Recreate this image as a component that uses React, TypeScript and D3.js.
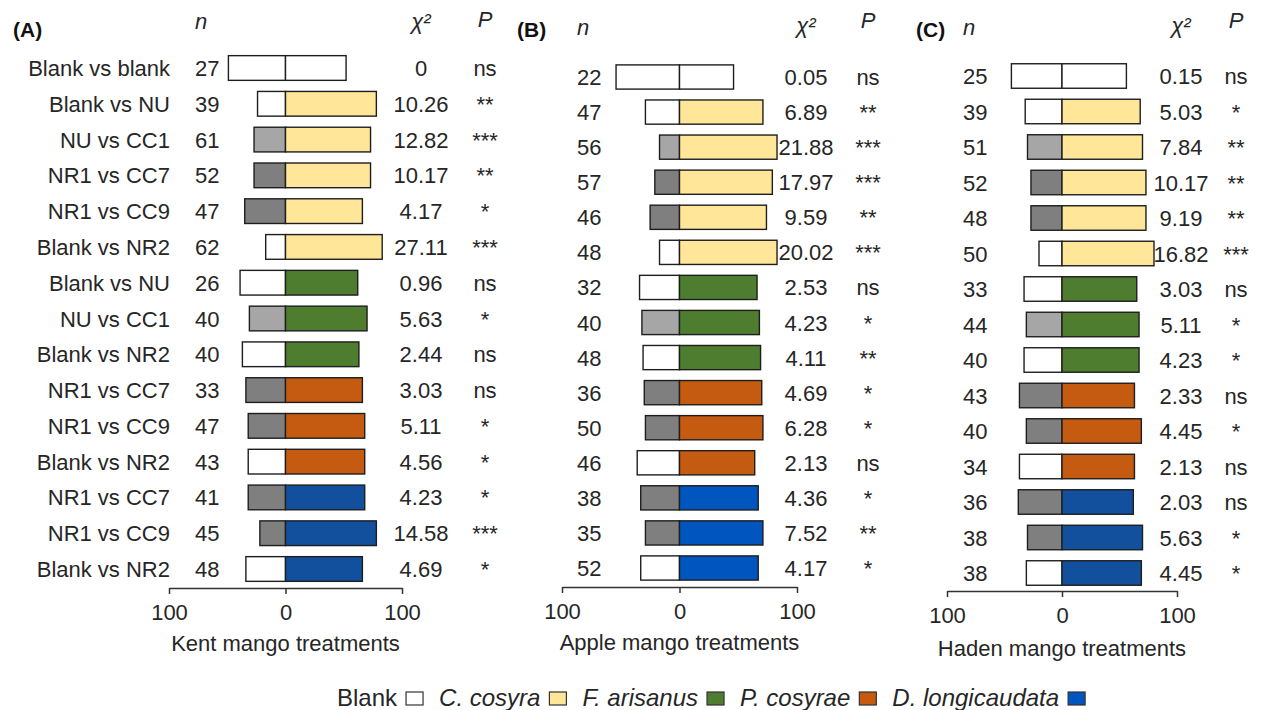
import { useEffect, useRef } from "react";
import * as d3 from "d3";

const FONT = "'Liberation Sans', Arial, Helvetica, sans-serif";

// row labels (shared by all three panels)
const rowLabels = [
  "Blank vs blank", "Blank vs NU", "NU vs CC1", "NR1 vs CC7", "NR1 vs CC9",
  "Blank vs NR2", "Blank vs NU", "NU vs CC1", "Blank vs NR2", "NR1 vs CC7",
  "NR1 vs CC9", "Blank vs NR2", "NR1 vs CC7", "NR1 vs CC9", "Blank vs NR2",
];
// treatment on the left side of the bar / fly species on the right side
const leftGroup = ["Blank", "Blank", "NU", "NR1", "NR1", "Blank", "Blank", "NU", "Blank", "NR1", "NR1", "Blank", "NR1", "NR1", "Blank"];
const rightGroup = [
  "Blank", "C. cosyra", "C. cosyra", "C. cosyra", "C. cosyra", "C. cosyra",
  "F. arisanus", "F. arisanus", "F. arisanus", "P. cosyrae", "P. cosyrae", "P. cosyrae",
  "D. longicaudata", "D. longicaudata", "D. longicaudata",
];

// Kent
const kentN = [27, 39, 61, 52, 47, 62, 26, 40, 40, 33, 47, 43, 41, 45, 48];
const kentChi = [0, 10.26, 12.82, 10.17, 4.17, 27.11, 0.96, 5.63, 2.44, 3.03, 5.11, 4.56, 4.23, 14.58, 4.69];
const kentP = ["ns", "**", "***", "**", "*", "***", "ns", "*", "ns", "ns", "*", "*", "*", "***", "*"];
const kentLeft = [49, 24, 27, 27, 35, 17, 39, 31, 37, 34, 32, 32, 32, 22, 34];
const kentRight = [52, 78, 73, 73, 66, 83, 62, 70, 63, 66, 68, 68, 68, 78, 66];

// Apple
const appleN = [22, 47, 56, 57, 46, 48, 32, 40, 48, 36, 50, 46, 38, 35, 52];
const appleChi = [0.05, 6.89, 21.88, 17.97, 9.59, 20.02, 2.53, 4.23, 4.11, 4.69, 6.28, 2.13, 4.36, 7.52, 4.17];
const appleP = ["ns", "**", "***", "***", "**", "***", "ns", "*", "**", "*", "*", "ns", "*", "**", "*"];
const appleLeft = [54, 29, 17, 21, 25, 17, 34, 32, 31, 30, 29, 36, 33, 29, 33];
const appleRight = [46, 71, 83, 79, 74, 83, 66, 68, 69, 70, 71, 64, 67, 71, 67];

// Haden
const hadenN = [25, 39, 51, 52, 48, 50, 33, 44, 40, 43, 40, 34, 36, 38, 38];
const hadenChi = [0.15, 5.03, 7.84, 10.17, 9.19, 16.82, 3.03, 5.11, 4.23, 2.33, 4.45, 2.13, 2.03, 5.63, 4.45];
const hadenP = ["ns", "*", "**", "**", "**", "***", "ns", "*", "*", "ns", "*", "ns", "ns", "*", "*"];
const hadenLeft = [44, 32, 30, 27, 27, 20, 33, 31, 33, 37, 31, 37, 38, 30, 31];
const hadenRight = [56, 68, 70, 73, 73, 80, 65, 67, 67, 63, 69, 63, 62, 70, 69];

const legendItems = ["Blank", "C. cosyra", "F. arisanus", "P. cosyrae", "D. longicaudata"];

const leftColor = { Blank: "#ffffff", NU: "#a6a6a6", NR1: "#7f7f7f" };
const rightColor = {
  Blank: "#ffffff",
  "C. cosyra": "#ffe699",
  "F. arisanus": "#4e7d2f",
  "P. cosyrae": "#c55a11",
  "D. longicaudata": "#12509e",
};

const panels = [
  {
    tag: "(A)", title: "Kent mango treatments", n: kentN, chi: kentChi, p: kentP, left: kentLeft, right: kentRight,
    blue: "#12509e", showLabels: true,
    x0: 169, x1: 402, y0: 68, y1: 569, axisY: 588, titleY: 651,
    tagX: 13, labelX: 170, nX: 195, chiX: 421, pX: 485, headY: [29, 29, 27],
  },
  {
    tag: "(B)", title: "Apple mango treatments", n: appleN, chi: appleChi, p: appleP, left: appleLeft, right: appleRight,
    blue: "#0055be", showLabels: false,
    x0: 562, x1: 797, y0: 77, y1: 568, axisY: 587, titleY: 650,
    tagX: 517, labelX: 0, nX: 577, chiX: 806, pX: 868, headY: [35, 33, 28],
  },
  {
    tag: "(C)", title: "Haden mango treatments", n: hadenN, chi: hadenChi, p: hadenP, left: hadenLeft, right: hadenRight,
    blue: "#12509e", showLabels: false,
    x0: 947, x1: 1177, y0: 76, y1: 573, axisY: 591, titleY: 656,
    tagX: 916, labelX: 0, nX: 963, chiX: 1181, pX: 1236, headY: [35, 33, 28],
  },
];

const fmtChi = (v: number) => (v === 0 ? "0" : v.toFixed(2));

export default function App() {
  const ref = useRef<SVGSVGElement>(null);

  useEffect(() => {
    const svg = d3.select(ref.current);
    svg.selectAll("*").remove();
    const txt = "#262626";

    panels.forEach((p) => {
      const x = d3.scaleLinear().domain([-100, 100]).range([p.x0, p.x1]);
      const y = d3.scalePoint<number>().domain(d3.range(rowLabels.length)).range([p.y0, p.y1]);
      const barH = y.step() * 0.69;
      const rows = rowLabels.map((label, i) => ({
        i, label, n: p.n[i], chi: p.chi[i], sig: p.p[i],
        left: p.left[i], right: p.right[i], lg: leftGroup[i], rg: rightGroup[i],
      }));
      const g = svg.append("g").style("font-family", FONT).style("font-size", "22px");

      // headers
      g.append("text").attr("x", p.tagX).attr("y", 37)
        .style("font-weight", 700).style("font-size", "21px").attr("fill", "#111").text(p.tag);
      g.append("text").attr("x", p.nX).attr("y", p.headY[0]).style("font-style", "italic").attr("fill", txt).text("n");
      g.append("text").attr("x", p.chiX).attr("y", p.headY[1]).attr("text-anchor", "middle")
        .style("font-style", "italic").attr("fill", txt).text("χ²");
      g.append("text").attr("x", p.pX).attr("y", p.headY[2]).attr("text-anchor", "middle")
        .style("font-style", "italic").attr("fill", txt).text("P");

      // bars
      g.selectAll(".lbar").data(rows).join("rect")
        .attr("x", (d) => x(-d.left))
        .attr("y", (d) => y(d.i)! - barH / 2)
        .attr("width", (d) => x(0) - x(-d.left))
        .attr("height", barH)
        .attr("fill", (d) => leftColor[d.lg])
        .attr("stroke", "#1e1e1e").attr("stroke-width", 1.4);

      g.selectAll(".rbar").data(rows).join("rect")
        .attr("x", x(0))
        .attr("y", (d) => y(d.i)! - barH / 2)
        .attr("width", (d) => x(d.right) - x(0))
        .attr("height", barH)
        .attr("fill", (d) => (d.rg === "D. longicaudata" ? p.blue : rightColor[d.rg]))
        .attr("stroke", "#1e1e1e").attr("stroke-width", 1.4);

      // text columns
      if (p.showLabels) {
        g.selectAll(".lab").data(rows).join("text")
          .attr("x", p.labelX).attr("y", (d) => y(d.i)! + 8)
          .attr("text-anchor", "end").attr("fill", txt).text((d) => d.label);
      }
      g.selectAll(".nval").data(rows).join("text")
        .attr("x", p.nX).attr("y", (d) => y(d.i)! + 8)
        .attr("fill", txt).text((d) => d.n);
      g.selectAll(".chival").data(rows).join("text")
        .attr("x", p.chiX).attr("y", (d) => y(d.i)! + 8)
        .attr("text-anchor", "middle").attr("fill", txt).text((d) => fmtChi(d.chi));
      g.selectAll(".pval").data(rows).join("text")
        .attr("x", p.pX).attr("y", (d) => y(d.i)! + 8)
        .attr("text-anchor", "middle").attr("fill", txt).text((d) => d.sig);

      // axis
      const axis = d3.axisBottom(x)
        .tickValues([-100, 0, 100])
        .tickFormat((d) => String(Math.abs(+d)))
        .tickSize(6)
        .tickSizeOuter(0)
        .tickPadding(10);
      const ax = g.append("g").attr("transform", `translate(0,${p.axisY})`).call(axis);
      ax.selectAll("path, line").attr("stroke", "#333").attr("stroke-width", 1.5);
      ax.selectAll("text").style("font-family", FONT).style("font-size", "22px").attr("fill", txt);

      g.append("text").attr("x", (p.x0 + p.x1) / 2).attr("y", p.titleY)
        .attr("text-anchor", "middle").attr("fill", txt).text(p.title);
    });

    // legend
    const lg = svg.append("g").style("font-family", FONT).style("font-size", "24px");
    let cx = 337;
    legendItems.forEach((name, i) => {
      const t = lg.append("text").attr("x", cx).attr("y", 706).attr("fill", txt)
        .style("font-style", i === 0 ? "normal" : "italic").text(name);
      cx += (t.node() as SVGTextElement).getComputedTextLength() + 9;
      lg.append("rect").attr("x", cx).attr("y", 692).attr("width", 17).attr("height", 13)
        .attr("fill", name === "D. longicaudata" ? "#0055be" : rightColor[name])
        .attr("stroke", "#333").attr("stroke-width", 1.2);
      cx += 17 + 16;
    });
  }, []);

  return (
    <svg
      ref={ref}
      width={1262}
      height={710}
      style={{ position: "absolute", left: 0, top: 0, display: "block", background: "#fff" }}
    />
  );
}
